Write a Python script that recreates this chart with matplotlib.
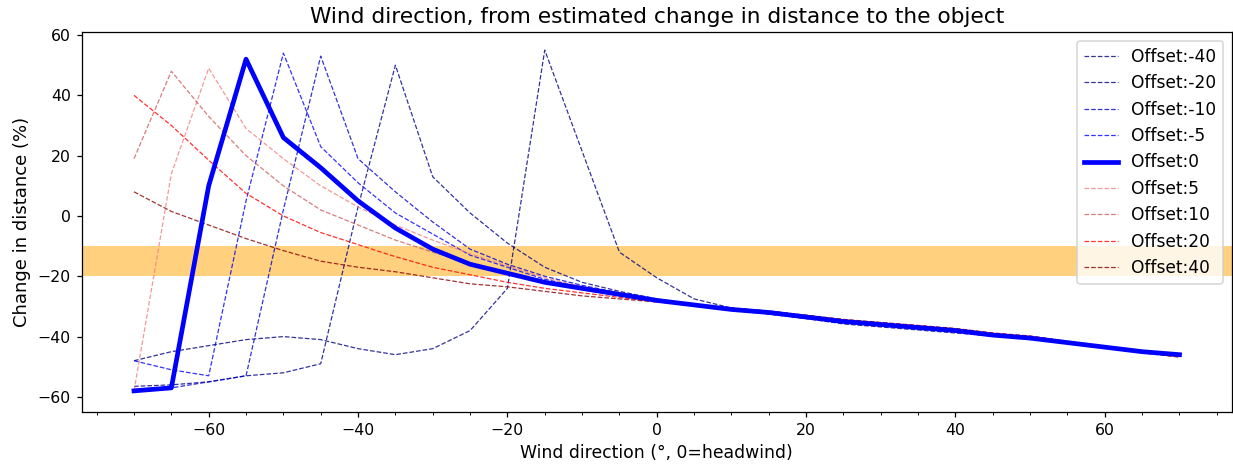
import matplotlib
matplotlib.use("Agg")
import matplotlib.pyplot as plt

wind_dir = [-70, -65, -60, -55, -50, -45, -40, -35, -30, -25, -20, -15, -10, -5, 0,
            5, 10, 15, 20, 25, 30, 35, 40, 45, 50, 55, 60, 65, 70]

off_m40 = [-48, -45, -43, -41, -40, -41, -44, -46, -44, -38, -24, 55, 21.5, -12, -20.5,
           -27.5, -30.5, -32.5, -34, -35.8, -36.8, -37.8, -38.8, -39.8, -40.8, -42.2, -43.5, -44.7, -45.7]
off_m20 = [-56.5, -56, -55, -53, -52, -49, 3, 50, 13, 1, -9, -17, -22, -25, -27.5,
           -29.8, -31.3, -32.5, -34, -35.5, -36.5, -37.3, -38.3, -39.7, -40.7, -42.2, -43.5, -45, -46]
off_m10 = [-57.5, -57, -55, -53, 2, 53, 19, 8, -2, -11, -16, -20, -23, -25.5, -27.5,
           -29.6, -31.2, -32.3, -33.8, -35.3, -36.3, -37.2, -38.2, -39.6, -40.6, -42.1, -43.5, -45, -46]
off_m5 = [-48, -51, -53, 5, 54, 23, 11, 1, -6, -13, -17, -21, -23.5, -26, -28,
          -29.5, -31, -32.2, -33.7, -35.2, -36.2, -37.1, -38.1, -39.5, -40.5, -42, -43.5, -45, -46]
off_0 = [-58, -57, 10, 52, 26, 16, 5, -4, -11, -16, -19, -22, -24, -26, -28,
         -29.5, -31, -32, -33.5, -35, -36, -37, -38, -39.5, -40.5, -42, -43.5, -45, -46]
off_5 = [-58, 14, 49, 29, 19, 10, 3, -3, -8, -12.5, -16.5, -20.5, -23.5, -26, -28,
         -29.5, -30.8, -31.8, -33.2, -34.7, -35.7, -36.7, -37.7, -39.2, -40.2, -41.8, -43.6, -45.2, -46.5]
off_10 = [19, 48, 33, 20, 10, 2, -3, -8, -12, -15.5, -19, -22, -24.5, -26.5, -28.5,
          -29.5, -30.7, -31.7, -33, -34.5, -35.5, -36.5, -37.5, -39, -40, -41.7, -43.6, -45.2, -46.6]
off_20 = [40, 30, 18.5, 7.5, 0, -5.5, -9.5, -13.5, -17, -19.5, -22, -24, -25.5, -27, -28.5,
          -29.5, -30.6, -31.6, -33, -34.4, -35.4, -36.4, -37.4, -38.9, -39.9, -41.6, -43.6, -45.3, -46.7]
off_40 = [8, 1.5, -3, -7.5, -11.5, -15, -17, -18.5, -20.5, -22.5, -23.5, -25, -26.5, -27.5, -28.5,
          -29.5, -30.5, -31.5, -32.9, -34.3, -35.3, -36.3, -37.3, -38.8, -39.8, -41.5, -43.6, -45.4, -46.8]

series = [("Offset:-40", off_m40, "navy"),
          ("Offset:-20", off_m20, "darkblue"),
          ("Offset:-10", off_m10, "mediumblue"),
          ("Offset:-5", off_m5, "blue"),
          ("Offset:0", off_0, "blue"),
          ("Offset:5", off_5, "lightcoral"),
          ("Offset:10", off_10, "indianred"),
          ("Offset:20", off_20, "red"),
          ("Offset:40", off_40, "darkred")]

band = (-20, -10)

DPI = 113
fig = plt.figure(figsize=(1233 / DPI, 465 / DPI), dpi=DPI)
ax = fig.add_axes([0.0663, 0.114, 0.9327, 0.8165])

ax.axhspan(band[0], band[1], color="orange", alpha=0.5, lw=0, zorder=0)
for label, vals, col in series:
    if label == "Offset:0":
        ax.plot(wind_dir, vals, color=col, lw=3, label=label, zorder=3)
    else:
        ax.plot(wind_dir, vals, color=col, lw=0.8, ls="--", alpha=0.8, label=label, zorder=2)

ax.set_ylim(-65, 60.9)
ax.set_title("Wind direction, from estimated change in distance to the object", fontsize=13.8)
ax.set_xlabel("Wind direction (°, 0=headwind)", fontsize=11)
ax.set_ylabel("Change in distance (%)", fontsize=11.5)
ax.xaxis.set_minor_locator(matplotlib.ticker.MultipleLocator(5))
ax.legend(loc="upper right", fontsize=10.8)

fig.savefig("out.png", dpi=DPI)
